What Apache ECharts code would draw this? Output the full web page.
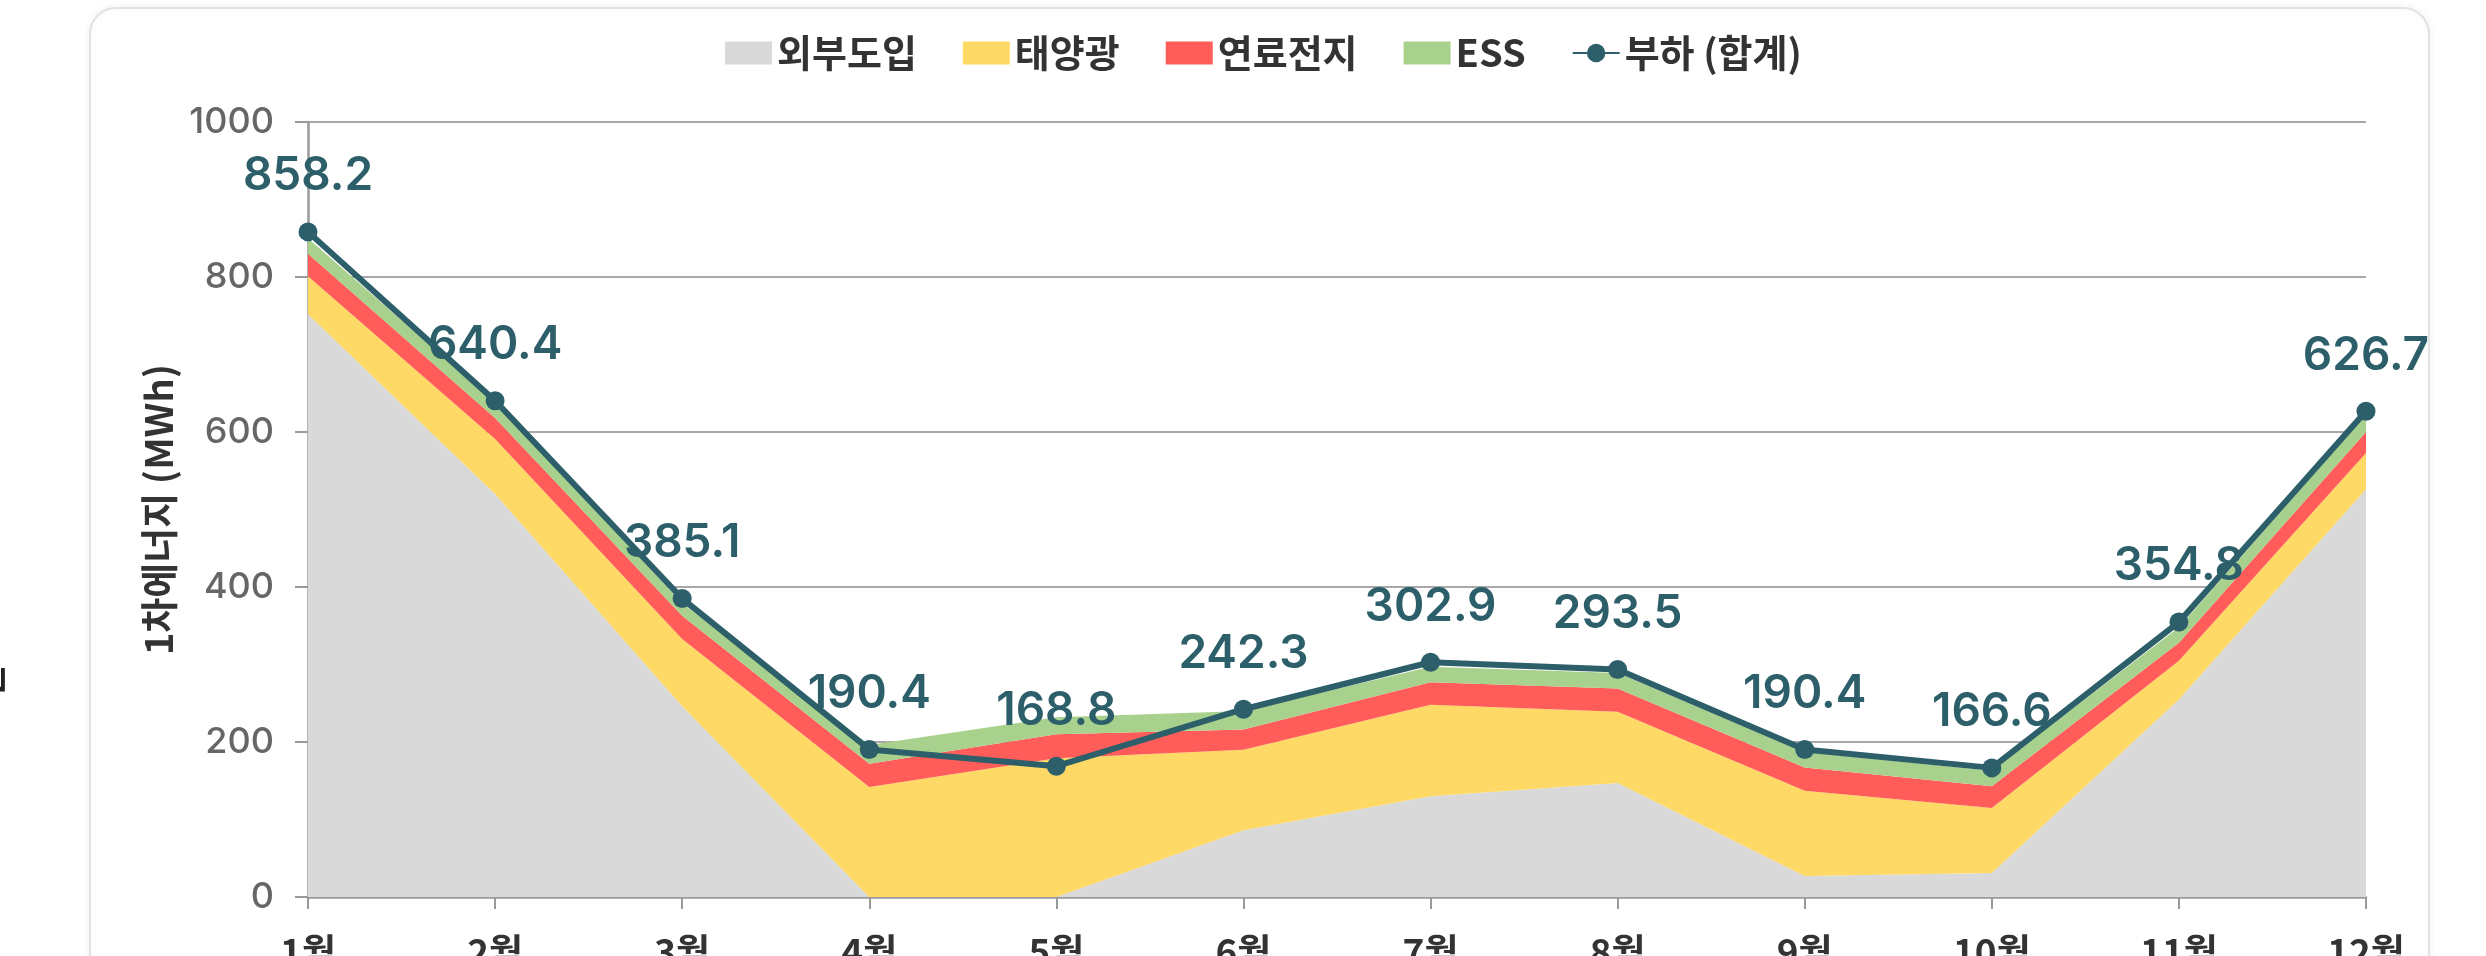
<!DOCTYPE html>
<html>
<head>
<meta charset="utf-8">
<script src="https://cdn.jsdelivr.net/npm/echarts@6/dist/echarts.min.js"></script>
<style>
html,body{margin:0;padding:0;background:#fff;}
#c{width:2486px;height:956px;}
</style>
</head>
<body>
<div id="c"></div>
<script>
const months = ['1월','2월','3월','4월','5월','6월','7월','8월','9월','10월','11월','12월'];
const external = [752, 520, 246, 0, 0, 86, 130, 147, 27, 31, 255, 526];
const solar    = [49, 71, 87, 142, 179, 104, 118, 92, 110, 84, 50, 47];
const fuelCell = [29, 27, 30, 30, 31, 26, 29, 30, 30, 28, 23, 27];
const ess      = [20, 20, 16, 24, 22, 24, 20, 20, 20, 20, 20, 22];
const load     = [858.2, 640.4, 385.1, 190.4, 168.8, 242.3, 302.9, 293.5, 190.4, 166.6, 354.8, 626.7];
const yTicks   = {min: 0, max: 1000, interval: 200};

const FONT = "Inter, 'Noto Sans CJK KR', sans-serif";
const KFONT = "'Noto Sans CJK KR', Inter, sans-serif";
const colors = {ext:'#d9d9d9', solar:'#ffd966', fuel:'#ff5c5a', ess:'#a9d18e', load:'#2d5f6a'};

function area(name, data, color){
  return {
    name, type:'line', stack:'total', data,
    symbol:'none', showSymbol:false,
    lineStyle:{width:0, color},
    itemStyle:{color},
    areaStyle:{color, opacity:1},
    emphasis:{disabled:true},
    z:2
  };
}

const chart = echarts.init(document.getElementById('c'), null, {renderer:'canvas'});
chart.setOption({
  animation:false,
  backgroundColor:'#fff',
  graphic:[
    {type:'rect', z:-10, shape:{x:90, y:8, width:2339, height:1010, r:26},
     style:{fill:'#fff', stroke:'#e2e2e2', lineWidth:2, shadowBlur:8, shadowColor:'rgba(0,0,0,0.06)'}},
    {type:'text', z:5, x:-12, y:680, rotation:Math.PI/2,
     style:{text:'는', font:"bold 36px 'Noto Sans CJK KR'", fill:'#222', align:'center', verticalAlign:'middle'}}
  ],
  legend:{
    top:29, left:720,
    itemWidth:47, itemHeight:23, itemGap:46,
    textStyle:{fontFamily:KFONT, fontSize:38, fontWeight:'bold', color:'#333'},
    data:[
      {name:'외부도입', icon:'rect'},
      {name:'태양광', icon:'rect'},
      {name:'연료전지', icon:'rect'},
      {name:'ESS', icon:'rect'},
      {name:'부하 (합계)'}
    ]
  },
  grid:{left:308, right:120, top:122, bottom:59, containLabel:false, outerBoundsMode:'none'},
  xAxis:{
    type:'category', data:months, boundaryGap:false,
    axisLine:{lineStyle:{color:'#9a9a9a', width:2.5}},
    axisTick:{show:true, length:12, lineStyle:{color:'#9a9a9a', width:2}},
    axisLabel:{margin:36, fontFamily:KFONT, fontSize:37, fontWeight:'bold', color:'#333'},
    splitLine:{show:false}
  },
  yAxis:{
    type:'value', min:yTicks.min, max:yTicks.max, interval:yTicks.interval,
    name:'1차에너지 (MWh)', nameLocation:'middle', nameGap:130,
    nameTextStyle:{fontFamily:KFONT, fontSize:38, fontWeight:'bold', color:'#333'},
    axisLine:{show:true, lineStyle:{color:'#9a9a9a', width:2.5}},
    axisTick:{show:true, length:13, lineStyle:{color:'#9a9a9a', width:2}},
    axisLabel:{margin:34, fontFamily:FONT, fontSize:36, fontWeight:500, color:'#666',
               formatter:v=>String(v)},
    splitLine:{show:true, lineStyle:{color:'#a8a8a8', width:2}}
  },
  series:[
    area('외부도입', external, colors.ext),
    area('태양광', solar, colors.solar),
    area('연료전지', fuelCell, colors.fuel),
    area('ESS', ess, colors.ess),
    {
      name:'부하 (합계)', type:'line', data:load, z:5,
      symbol:'circle', symbolSize:19,
      lineStyle:{color:colors.load, width:6},
      itemStyle:{color:colors.load},
      label:{show:true, position:'top', distance:23,
             fontFamily:FONT, fontSize:46, fontWeight:600, color:colors.load,
             formatter:p=>Number(p.value).toFixed(1)},
      emphasis:{disabled:true}
    }
  ]
});
</script>
</body>
</html>
